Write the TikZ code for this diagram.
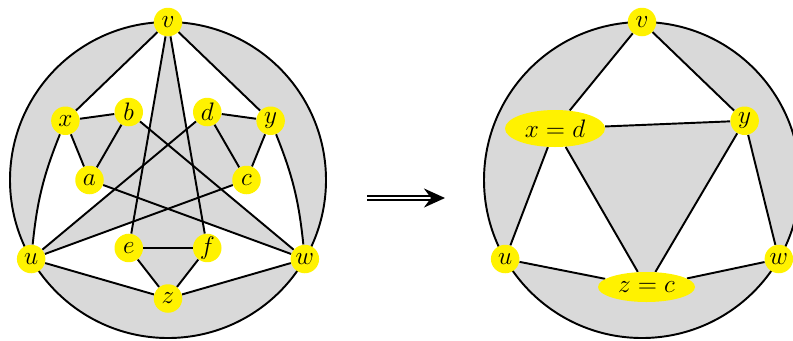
\documentclass[tikz,border=0pt]{standalone}
\usetikzlibrary{shapes.geometric, backgrounds, arrows.meta}

\begin{document}
\begin{tikzpicture}[
	vertex/.style={circle, fill=yellow, inner sep=0pt, minimum size=0.57cm, font=\Large},
	merged/.style={ellipse, fill=yellow, inner sep=0pt, font=\Large},
	edge/.style={line width=1.1pt},
	face/.style={fill=gray!30}]
	\useasboundingbox (0, 0) rectangle (15.86, 6.8);

	% left graph
	\begin{scope}[shift={(3.36, 3.2)}]
		% outer vertices
		\node[vertex] (v) at (90:3.16) {$v$};
		\node[vertex] (u) at (210:3.16) {$u$};
		\node[vertex] (w) at (330:3.16) {$w$};
		\node[vertex] (x) at (150:2.37) {$x$};
		\node[vertex] (y) at (30:2.37) {$y$};
		\node[vertex] (z) at (270:2.37) {$z$};
		% inner vertices
		\foreach \name/\ang in {c/0, d/60, b/120, a/180, e/240, f/300}
			\node[vertex] (\name) at (\ang:1.57) {$\name$};

		\begin{scope}[on background layer]
			% faces
			\fill[face] (v.center) arc[start angle=90, end angle=210, radius=3.16]
				to[bend left=8] (x.center) -- cycle;
			\fill[face] (w.center) arc[start angle=-30, end angle=90, radius=3.16]
				-- (y.center) to[bend left=8] (w.center) -- cycle;
			\fill[face] (u.center) arc[start angle=210, end angle=330, radius=3.16]
				-- (z.center) -- cycle;
			\foreach \p/\q/\r in {x/b/a, d/y/c, e/f/z, v/e/f, u/d/c, w/b/a}
				\fill[face] (\p.center) -- (\q.center) -- (\r.center) -- cycle;
			% edges
			\draw[edge] (0, 0) circle[radius=3.16];
			\draw[edge] (x) to[bend right=8] (u);
			\draw[edge] (y) to[bend left=8] (w);
			\foreach \p/\q in {v/x, v/y, v/e, v/f, u/d, u/c, u/z, w/b, w/a, w/z,
					x/b, x/a, b/a, d/y, d/c, y/c, e/f, e/z, f/z}
				\draw[edge] (\p) -- (\q);
		\end{scope}
	\end{scope}

	% arrow
	\coordinate (arrL) at (7.34, 2.84);
	\coordinate (arrR) at (8.9, 2.84);
	\draw[double, double distance=1.3pt, line width=1.3pt,
		-{Stealth[length=0.42cm, width=0.38cm, inset=0.14cm]}] (arrL) -- (arrR);

	% right graph
	\begin{scope}[shift={(12.84, 3.2)}]
		\node[vertex] (v2) at (90:3.16) {$v$};
		\node[vertex] (u2) at (210:3.16) {$u$};
		\node[vertex] (w2) at (330:3.16) {$w$};
		\node[vertex] (y2) at (30:2.37) {$y$};
		\node[merged, minimum width=2cm, minimum height=0.74cm] (xd) at (-1.74, 1.03) {$x=d$};
		\node[merged, minimum width=1.94cm, minimum height=0.6cm] (zc) at (0.09, -2.14) {$z=c$};

		\begin{scope}[on background layer]
			% faces
			\fill[face] (v2.center) arc[start angle=90, end angle=210, radius=3.16]
				-- (xd.center) -- cycle;
			\fill[face] (w2.center) arc[start angle=-30, end angle=90, radius=3.16]
				-- (y2.center) -- cycle;
			\fill[face] (u2.center) arc[start angle=210, end angle=330, radius=3.16]
				-- (zc.center) -- cycle;
			\fill[face] (xd.center) -- (y2.center) -- (zc.center) -- cycle;
			% edges
			\draw[edge] (0, 0) circle[radius=3.16];
			\foreach \p/\q in {v2/xd, v2/y2, xd/y2, xd/u2, xd/zc, y2/zc, y2/w2, u2/zc, w2/zc}
				\draw[edge] (\p) -- (\q);
		\end{scope}
	\end{scope}
\end{tikzpicture}
\end{document}
